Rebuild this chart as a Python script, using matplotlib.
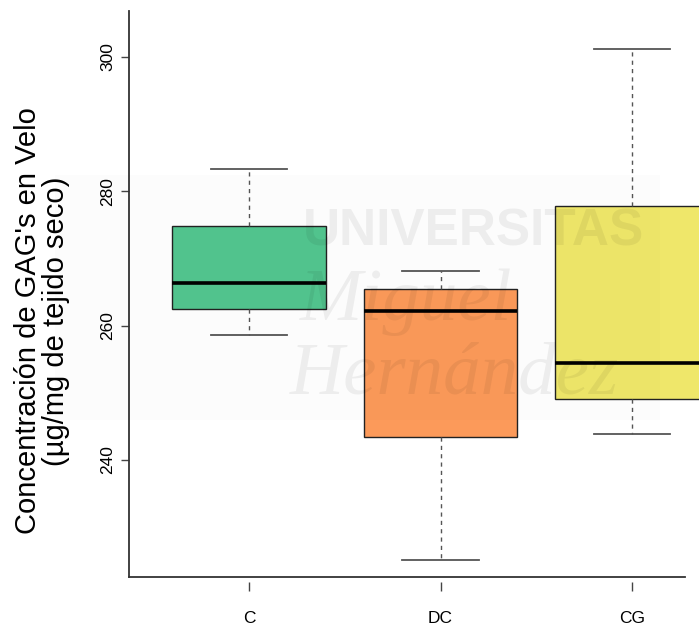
import matplotlib
matplotlib.use("Agg")
import matplotlib.pyplot as plt
from matplotlib.patches import Rectangle

plt.rcParams['font.family'] = ['Liberation Sans', 'DejaVu Sans']

# Box-plot summary per group
groups = ["C", "DC", "CG"]
whisker_low = [258.6, 225.1, 243.8]
q1 = [262.5, 243.45, 249.1]
median = [266.3, 262.2, 254.5]
q3 = [274.8, 265.4, 277.8]
whisker_high = [283.3, 268.1, 301.15]
fill_colors = ["#52C68F", "#FC9A5A", "#EFE76A"]
y_ticks = [240, 260, 280, 300]

W, H = 699, 627
fig = plt.figure(figsize=(W / 100, H / 100), dpi=100)
ax = fig.add_axes([129 / W, 1 - 577.3 / H, 1 - 129 / W, (577.3 - 10.7) / H])

stats = []
for i, g in enumerate(groups):
    stats.append(dict(label=g, whislo=whisker_low[i], q1=q1[i], med=median[i],
                      q3=q3[i], whishi=whisker_high[i], fliers=[]))

positions = list(range(1, len(groups) + 1))
bp = ax.bxp(stats, positions=positions, widths=0.8, patch_artist=True,
            showfliers=False,
            boxprops=dict(edgecolor="#222222", linewidth=1.0),
            medianprops=dict(color="black", linewidth=2.6, solid_capstyle="butt"),
            whiskerprops=dict(color="#555555", linewidth=1.0, linestyle=(0, (3, 3))),
            capprops=dict(color="#555555", linewidth=1.3),
            capwidths=0.4)
for patch, c in zip(bp["boxes"], fill_colors):
    patch.set_facecolor(c)
    patch.set_clip_on(False)
for key in ("medians", "whiskers", "caps"):
    for ln in bp[key]:
        ln.set_clip_on(False)

ax.set_xlim(0.373, 3.35)
ax.set_ylim(222.55, 306.85)

for s in ("top", "right"):
    ax.spines[s].set_visible(False)
for s in ("left", "bottom"):
    ax.spines[s].set_color("#333333")
    ax.spines[s].set_linewidth(1.3)
ax.spines["bottom"].set_bounds(0.373, 3.277)

ax.set_yticks(y_ticks)
ax.set_yticklabels([str(t) for t in y_ticks], rotation=90, va="center", fontsize=12.5)
ax.tick_params(axis="y", length=6, width=1.0, color="#444444", pad=4)

# Category axis drawn slightly below the frame line
ax.set_xticks([])
sec = ax.secondary_xaxis(-0.009)
sec.spines["bottom"].set_visible(False)
sec.set_xticks(positions)
sec.set_xticklabels(groups, fontsize=12.5)
sec.tick_params(axis="x", length=6.5, width=1.0, color="#444444", pad=14)

fig.text(28 / W, 1 - 321 / H, "Concentración de GAG's en Velo", rotation=90,
         ha="center", va="center", fontsize=21)
fig.text(56 / W, 1 - 321 / H, "(µg/mg de tejido seco)", rotation=90,
         ha="center", va="center", fontsize=21)

# Institutional watermark
fig.patches.append(Rectangle((55 / W, 1 - 420 / H), 605 / W, 245 / H,
                             transform=fig.transFigure, facecolor="black",
                             alpha=0.012, edgecolor="none", zorder=5))
wm = dict(color="black", alpha=0.06, zorder=10)
fig.text(303 / W, 1 - 245 / H, "UNIVERSITAS", fontsize=37, fontweight="bold",
         family=["Liberation Sans Narrow", "Liberation Sans"], ha="left",
         va="baseline", **wm)
fig.text(300 / W, 1 - 320 / H, "Miguel", fontsize=54, style="italic",
         family=["Liberation Serif", "DejaVu Serif"], ha="left", va="baseline", **wm)
fig.text(290 / W, 1 - 393 / H, "Hernández", fontsize=54, style="italic",
         family=["Liberation Serif", "DejaVu Serif"], ha="left", va="baseline", **wm)

fig.savefig("out.png", dpi=100)
